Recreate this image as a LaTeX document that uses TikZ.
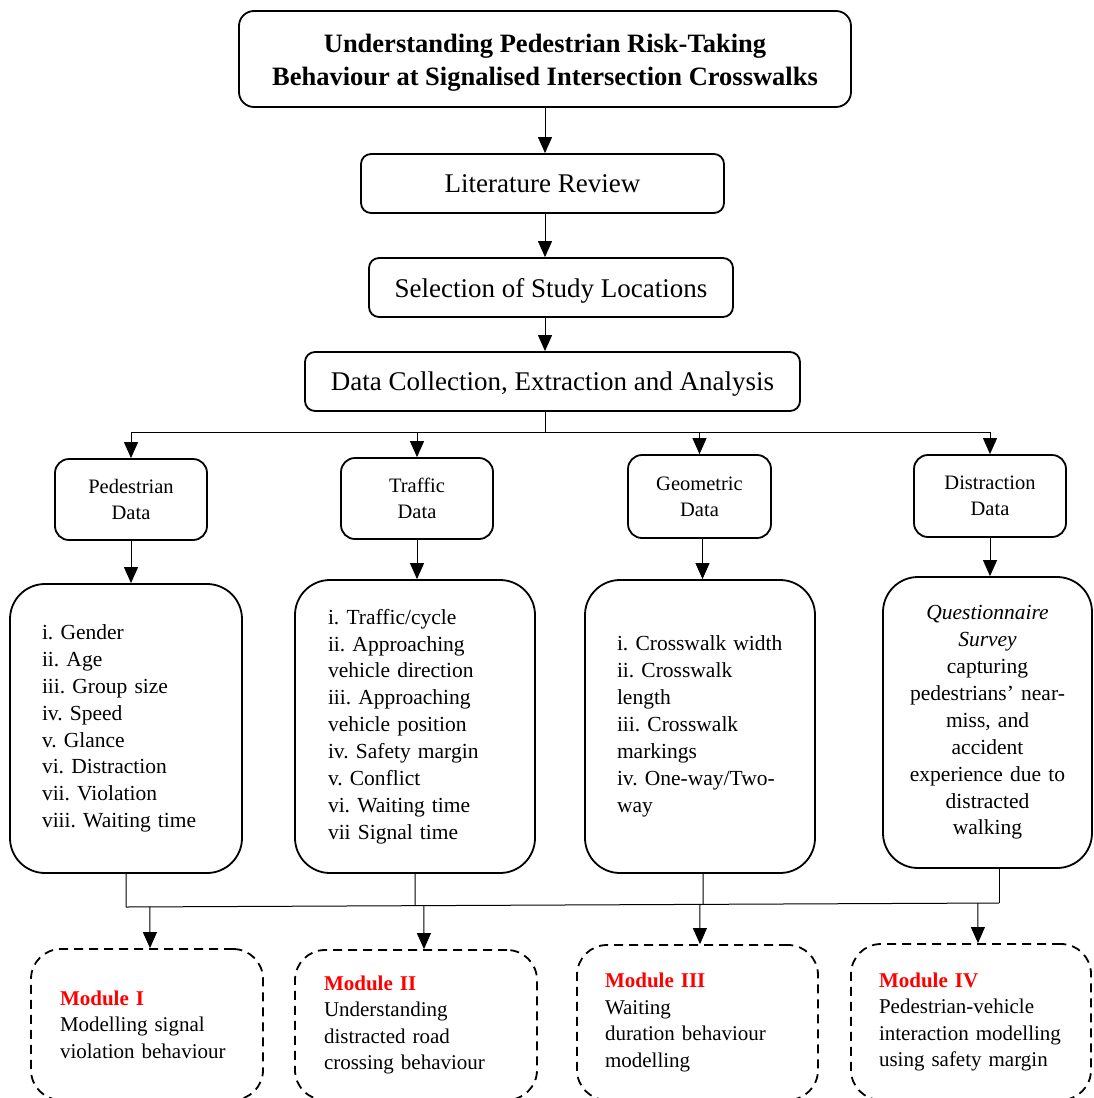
\documentclass[tikz,border=0pt]{standalone}
\usepackage{fontspec}
\setmainfont{Liberation Serif}
\usetikzlibrary{arrows.meta,calc}
\begin{document}
\begin{tikzpicture}[x=1pt,y=-1pt,
  frame/.style={draw, line width=1.8pt, inner sep=0pt},
  titlebox/.style={frame, rounded corners=15pt, align=center,
    font=\fontsize{26.5}{33}\selectfont\bfseries},
  stepbox/.style={frame, rounded corners=10pt, text depth=0pt,
    font=\fontsize{27}{32}\selectfont},
  catbox/.style={frame, rounded corners=14pt, align=center,
    font=\fontsize{20.5}{26}\selectfont},
  listbox/.style={frame, rounded corners=35pt, inner xsep=32pt, align=left,
    font=\fontsize{21.5}{26.9}\selectfont},
  modbox/.style={frame, rounded corners=30pt, dash pattern=on 9pt off 6pt,
    inner xsep=29pt, align=left, font=\fontsize{21}{26.5}\selectfont},
  link/.style={line width=1pt},
  arr/.style={link, -{Triangle[length=16pt,width=14pt]}}
]
\useasboundingbox (0,0) rectangle (1093,1098);
\clip (0,0) rectangle (1093,1098);

% main chain
\node[titlebox, minimum width=612pt, minimum height=96pt] (title) at (545,59)
  {\rule{0pt}{26pt}Understanding Pedestrian Risk-Taking\\Behaviour at Signalised Intersection Crosswalks};
\node[stepbox, minimum width=363pt, minimum height=59pt] (lit) at (542.5,183.5) {Literature Review};
\node[stepbox, minimum width=364pt, minimum height=59pt] (sel) at (551,287.5) {Selection of Study Locations};
\node[stepbox, minimum width=495pt, minimum height=59pt] (dc) at (552.5,381.5) {Data Collection, Extraction and Analysis};

\draw[arr] (title.south) -- (title.south |- lit.north);
\draw[arr] (lit.south -| title.south) -- (sel.north -| title.south);
\draw[arr] (sel.south -| title.south) -- (dc.north -| title.south);

% data categories
\node[catbox, minimum width=152pt, minimum height=81pt] (ped) at (131,499.5) {Pedestrian\\Data};
\node[catbox, minimum width=152pt, minimum height=81pt] (tra) at (417,498.5) {Traffic\\Data};
\node[catbox, minimum width=143pt, minimum height=83pt] (geo) at (699.5,496.5) {Geometric\\Data};
\node[catbox, minimum width=152pt, minimum height=82pt] (dis) at (990,496) {Distraction\\Data};

\coordinate (br) at (545,432);
\draw[link] (dc.south -| title.south) -- (br);
\draw[arr] (br) -| (ped.north);
\draw[arr] (br) -| (tra.north);
\draw[arr] (br) -| (geo.north);
\draw[arr] (br) -| (dis.north);

% variable lists
\node[listbox, text width=168pt, minimum height=289pt] (b1) at (126,728.5)
  {i.~Gender\\ii.~Age\\iii.~Group~size\\iv.~Speed\\v.~Glance\\vi.~Distraction\\vii.~Violation\\viii.~Waiting~time};
\node[listbox, inner xsep=33pt, text width=174pt, minimum height=293pt] (b2) at (415,726.5)
  {i.~Traffic/cycle\\ii.~Approaching\\vehicle~direction\\iii.~Approaching\\vehicle~position\\iv.~Safety~margin\\v.~Conflict\\vi.~Waiting~time\\vii~Signal~time};
\node[listbox, text width=166pt, minimum height=293pt] (b3) at (700,726.5)
  {i.~Crosswalk~width\\ii.~Crosswalk\\length\\iii.~Crosswalk\\markings\\iv.~One-way/Two-\\way};
\node[listbox, inner xsep=8pt, text width=193pt, align=center, minimum height=291pt] (b4) at (987.5,722.5)
  {\textit{Questionnaire}\\\textit{Survey}\\capturing\\pedestrians’~near-\\miss,~and\\accident\\experience~due~to\\distracted\\walking};

\draw[arr] (ped.south) -- (ped.south |- b1.north);
\draw[arr] (tra.south) -- (tra.south |- b2.north);
\draw[arr] ([xshift=3pt]geo.south) -- ([xshift=3pt]geo.south |- b3.north);
\draw[arr] (dis.south) -- (dis.south |- b4.north);

% modules
\node[modbox, text width=174pt, minimum height=151pt] (m1) at (147,1024.5)
  {\textcolor{red}{\bfseries Module~I}\\Modelling~signal\\violation~behaviour};
\node[modbox, text width=184pt, minimum height=150pt] (m2) at (416,1025)
  {\textcolor{red}{\bfseries Module~II}\\Understanding\\distracted~road\\crossing~behaviour};
\node[modbox, inner xsep=28pt, text width=185pt, minimum height=155pt] (m3) at (697.5,1022.5)
  {\textcolor{red}{\bfseries Module~III}\\Waiting\\duration~behaviour\\modelling};
\node[modbox, inner xsep=28pt, text width=184pt, minimum height=156pt] (m4) at (971,1022)
  {\textcolor{red}{\bfseries Module~IV}\\Pedestrian-vehicle\\interaction~modelling\\using~safety~margin};

% collecting bus
\coordinate (busL) at (126,907);
\coordinate (busR) at (999,903);
\draw[link] (busL) -- (busR);
\draw[link] (b1.south) -- ($(busL)!(b1.south)!(busR)$);
\draw[link] (b2.south) -- ($(busL)!(b2.south)!(busR)$);
\draw[link] ([xshift=3pt]b3.south) -- ($(busL)!([xshift=3pt]b3.south)!(busR)$);
\draw[link] (b4.south -| busR) -- (busR);

\draw[arr] ($(busL)!([xshift=3pt]m1.north)!(busR)$) -- ([xshift=3pt]m1.north);
\draw[arr] ($(busL)!([xshift=8pt]m2.north)!(busR)$) -- ([xshift=8pt]m2.north);
\draw[arr] ($(busL)!([xshift=2.5pt]m3.north)!(busR)$) -- ([xshift=2.5pt]m3.north);
\draw[arr] ($(busL)!([xshift=7pt]m4.north)!(busR)$) -- ([xshift=7pt]m4.north);
\end{tikzpicture}
\end{document}
